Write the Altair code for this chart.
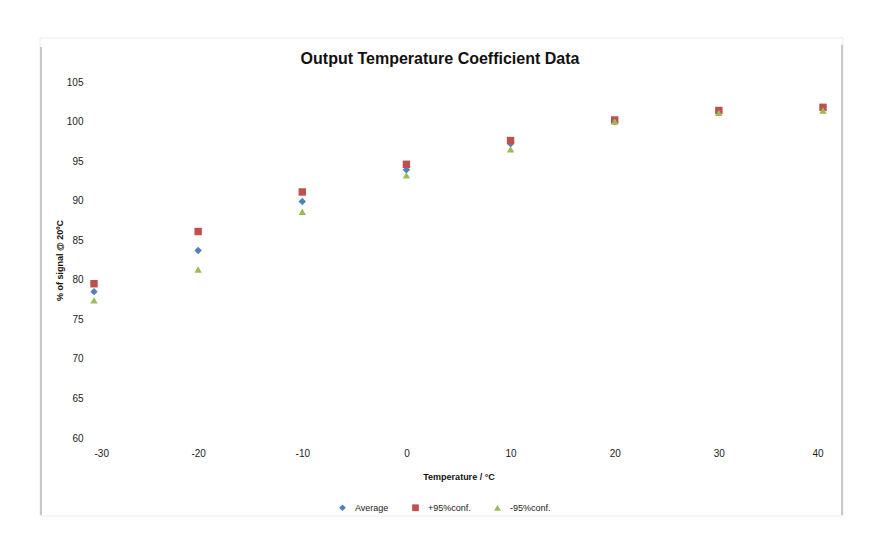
import altair as alt
import pandas as pd

temps = [-30, -20, -10, 0, 10, 20, 30, 40]
average = [78.5, 83.7, 89.9, 93.9, 97.2, 100.0, 101.2, 101.6]
upper95 = [79.5, 86.1, 91.1, 94.6, 97.6, 100.2, 101.4, 101.8]
lower95 = [77.4, 81.3, 88.6, 93.2, 96.5, 100.0, 101.1, 101.4]
series = ["Average", "+95%conf.", "-95%conf."]
colors = ["#4F81BD", "#C0504D", "#9BBB59"]
shapes = ["diamond", "square", "triangle-up"]
title_text = "Output Temperature Coefficient Data"

rows = []
for name, vals in zip(series, [average, upper95, lower95]):
    for t, v in zip(temps, vals):
        rows.append({"Temperature": t, "Value": v, "Series": name})
df = pd.DataFrame(rows)

FONT = "Liberation Sans"
W, H = 729, 356
one = pd.DataFrame({"a": [0]})

frame = alt.Chart(one).mark_rect(
    fill="white", stroke="#ececec", strokeWidth=1, clip=False
).encode(x=alt.value(-54), x2=alt.value(749), y=alt.value(-44), y2=alt.value(434))

left_line = alt.Chart(one).mark_rule(
    color="#c8c8c8", strokeWidth=2, clip=False
).encode(x=alt.value(-53), y=alt.value(-35), y2=alt.value(433))

right_line = alt.Chart(one).mark_rule(
    color="#c8c8c8", strokeWidth=2, clip=False
).encode(x=alt.value(748), y=alt.value(-37), y2=alt.value(433))

title = alt.Chart(pd.DataFrame({"t": [title_text]})).mark_text(
    font=FONT, fontSize=16, fontWeight="bold", color="#111", align="center",
    baseline="middle", clip=False
).encode(text="t:N", x=alt.value(346), y=alt.value(-23))

points = alt.Chart(df).mark_point(filled=True, opacity=1, size=55).encode(
    x=alt.X("Temperature:Q",
            scale=alt.Scale(domain=[-30, 40], nice=False),
            axis=alt.Axis(values=temps, title="Temperature / °C", grid=False,
                          domain=False, ticks=False, labelFontSize=10, zindex=2,
                          labelExpr="'' + datum.value",
                          labelFont=FONT, labelColor="#222", labelPadding=10,
                          titleFont=FONT, titleFontSize=9, titleFontWeight="bold",
                          titleColor="#111", titlePadding=14)),
    y=alt.Y("Value:Q",
            scale=alt.Scale(domain=[60, 105], nice=False, zero=False),
            axis=alt.Axis(values=list(range(60, 106, 5)), title="% of signal @ 20ºC",
                          grid=False, domain=False, ticks=False, labelFontSize=10, zindex=2,
                          labelFont=FONT, labelColor="#222", labelPadding=11,
                          titleFont=FONT, titleFontSize=9, titleFontWeight="bold",
                          titleColor="#111", titlePadding=2)),
    color=alt.Color("Series:N", scale=alt.Scale(domain=series, range=colors),
                    legend=alt.Legend(title=None, orient="none", direction="horizontal",
                                      legendX=244, legendY=421, columnPadding=22, zindex=2,
                                      labelFont=FONT, labelFontSize=9, labelColor="#222",
                                      symbolSize=45, labelOffset=8)),
    shape=alt.Shape("Series:N", scale=alt.Scale(domain=series, range=shapes), legend=None),
)

chart = alt.layer(frame, left_line, right_line, title, points).properties(
    width=W, height=H,
    autosize=alt.AutoSizeParams(type="none"),
    padding={"left": 86, "top": 74, "right": 46, "bottom": 106},
).configure_view(stroke=None).configure(background="white")

chart.save("out.html", embed_options={"renderer": "svg", "actions": False})
